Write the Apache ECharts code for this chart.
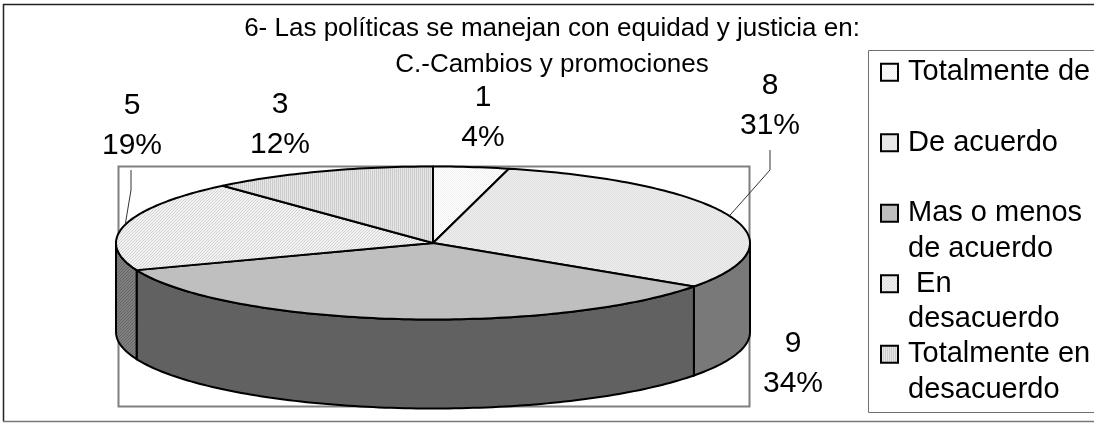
<!DOCTYPE html>
<html>
<head>
<meta charset="utf-8">
<title>Grafico 6</title>
<style>
html, body { margin: 0; padding: 0; background: #fff; overflow: hidden; }
#chart { width: 1094px; height: 423px; }
</style>
<script src="https://cdn.jsdelivr.net/npm/echarts@6/dist/echarts.min.js"></script>
</head>
<body>
<div id="chart"></div>
<script>
// datos
var categories = ['Totalmente de', 'De acuerdo', 'Mas o menos\nde acuerdo', ' En\ndesacuerdo', 'Totalmente en\ndesacuerdo'];
var values = [1, 8, 9, 5, 3];
var percents = [4, 31, 34, 19, 12];
var titleLines = ['6- Las políticas se manejan con equidad y justicia en:', 'C.-Cambios y promociones'];

var FONT = '"Liberation Sans", Arial, sans-serif';

// geometria de la torta (elipse + espesor)
var CX = 433, CY = 243, RX = 317, RY = 76.5, DEPTH = 89;

// posicion del texto de cada etiqueta y punto de quiebre de las guias
var labelPos = [[483, 118], [770, 105.5], [793, 364], [132, 126], [280, 125]];
var leaderBend = [null, [[770, 170], [770, 150]], null, [[131, 190], [131, 170]], null];

var total = 0;
for (var i = 0; i < values.length; i++) { total += values[i]; }

// angulos de inicio, en sentido horario desde arriba
var startAngles = [];
var acc = 0;
for (var i = 0; i < values.length; i++) {
	startAngles.push(acc / total * Math.PI * 2);
	acc += values[i];
}

function pattern(size, painter) {
	var c = document.createElement('canvas');
	c.width = size;
	c.height = size;
	painter(c.getContext('2d'));
	return { image: c, repeat: 'repeat' };
}
function dots(bg, fg) {
	return pattern(2, function (g) {
		g.fillStyle = bg; g.fillRect(0, 0, 2, 2);
		g.fillStyle = fg; g.fillRect(0, 0, 1, 1); g.fillRect(1, 1, 1, 1);
	});
}
function hatch(bg, fg) {
	return pattern(3, function (g) {
		g.fillStyle = bg; g.fillRect(0, 0, 3, 3);
		g.fillStyle = fg; g.fillRect(2, 0, 1, 1); g.fillRect(1, 1, 1, 1); g.fillRect(0, 2, 1, 1);
	});
}
function stripes(bg, fg) {
	return pattern(2, function (g) {
		g.fillStyle = bg; g.fillRect(0, 0, 2, 2);
		g.fillStyle = fg; g.fillRect(0, 0, 1, 2);
	});
}

var topFills = [
	dots('#ffffff', '#f0f0f0'),
	dots('#ececec', '#e2e2e2'),
	dots('#c2c2c2', '#bcbcbc'),
	hatch('#f2f2f2', '#d2d2d2'),
	stripes('#e6e6e6', '#cccccc')
];
var sideFills = [
	'#999999',
	dots('#7c7c7c', '#767676'),
	dots('#646464', '#5e5e5e'),
	hatch('#808080', '#666666'),
	'#777777'
];

function rimPoint(a, dy) {
	return [CX + RX * Math.sin(a), CY - RY * Math.cos(a) + dy];
}
function arcPoints(a0, a1, dy) {
	var pts = [];
	var n = Math.max(2, Math.ceil((a1 - a0) / 0.02));
	for (var k = 0; k <= n; k++) {
		pts.push(rimPoint(a0 + (a1 - a0) * k / n, dy));
	}
	return pts;
}

// dibuja una porcion: pared frontal, tapa, guia y etiqueta
function renderSlice(idx, params, api) {
	var a0 = startAngles[idx];
	var a1 = a0 + api.value(0) / total * Math.PI * 2;
	var children = [];

	// la pared solo se ve en la mitad delantera
	var w0 = Math.max(a0, Math.PI / 2);
	var w1 = Math.min(a1, Math.PI * 1.5);
	if (w1 > w0) {
		children.push({
			type: 'polygon',
			shape: { points: arcPoints(w0, w1, 0).concat(arcPoints(w0, w1, DEPTH).reverse()) },
			style: { fill: sideFills[idx], stroke: '#000', lineWidth: 2 }
		});
	}
	children.push({
		type: 'polygon',
		shape: { points: [[CX, CY]].concat(arcPoints(a0, a1, 0)) },
		style: { fill: topFills[idx], stroke: '#000', lineWidth: 2, lineJoin: 'round' }
	});
	if (leaderBend[idx]) {
		children.push({
			type: 'polyline',
			shape: { points: [rimPoint((a0 + a1) / 2, 0)].concat(leaderBend[idx]) },
			style: { fill: null, stroke: '#333', lineWidth: 1 }
		});
	}
	children.push({
		type: 'text',
		style: {
			x: labelPos[idx][0],
			y: labelPos[idx][1],
			text: api.value(0) + '\n' + percents[idx] + '%',
			align: 'center',
			verticalAlign: 'middle',
			font: '30px ' + FONT,
			lineHeight: 40,
			fill: '#000'
		}
	});
	return { type: 'group', children: children };
}

var series = [];
for (var i = 0; i < categories.length; i++) {
	(function (idx) {
		series.push({
			type: 'custom',
			name: categories[idx],
			coordinateSystem: 'none',
			silent: true,
			animation: false,
			z: 3,
			itemStyle: { color: topFills[idx], borderColor: '#000', borderWidth: 2 },
			data: [[values[idx]]],
			renderItem: function (params, api) { return renderSlice(idx, params, api); }
		});
	})(i);
}

var myChart = echarts.init(document.getElementById('chart'), null, { renderer: 'canvas' });
myChart.setOption({
	backgroundColor: '#fff',
	animation: false,
	title: {
		text: titleLines.join('\n'),
		left: 547,
		top: 6,
		textAlign: 'center',
		textStyle: { fontFamily: FONT, fontSize: 26, fontWeight: 'normal', color: '#000', lineHeight: 36 }
	},
	legend: {
		orient: 'vertical',
		left: 868,
		top: 19,
		data: categories,
		icon: 'rect',
		itemWidth: 17,
		itemHeight: 17,
		itemGap: -36,
		selectedMode: false,
		padding: [0, 40, 0, 12],
		// una linea en blanco arriba deja el cuadro a la altura de la primera linea
		formatter: function (name) {
			return '\n' + (name.indexOf('\n') >= 0 ? name : name + '\n');
		},
		textStyle: { fontFamily: FONT, fontSize: 29, color: '#000', lineHeight: 35.5, padding: [0, 0, 0, 5] }
	},
	graphic: [
		{
			type: 'rect', z: 0, silent: true,
			shape: { x: 118.5, y: 166.5, width: 631, height: 240 },
			style: { fill: 'none', stroke: '#808080', lineWidth: 2 }
		},
		{
			type: 'rect', z: 0, silent: true,
			shape: { x: 868.5, y: 50.5, width: 400, height: 362 },
			style: { fill: '#fff', stroke: '#707070', lineWidth: 1 }
		},
		{
			type: 'polyline', z: 0, silent: true,
			shape: { points: [[3.5, 421.5], [3.5, 4.5], [1094, 4.5]] },
			style: { fill: 'none', stroke: '#222', lineWidth: 1.5 }
		},
		{
			type: 'line', z: 0, silent: true,
			shape: { x1: 3, y1: 421.5, x2: 1094, y2: 421.5 },
			style: { stroke: '#777', lineWidth: 1.5 }
		}
	],
	series: series
});
</script>
</body>
</html>
